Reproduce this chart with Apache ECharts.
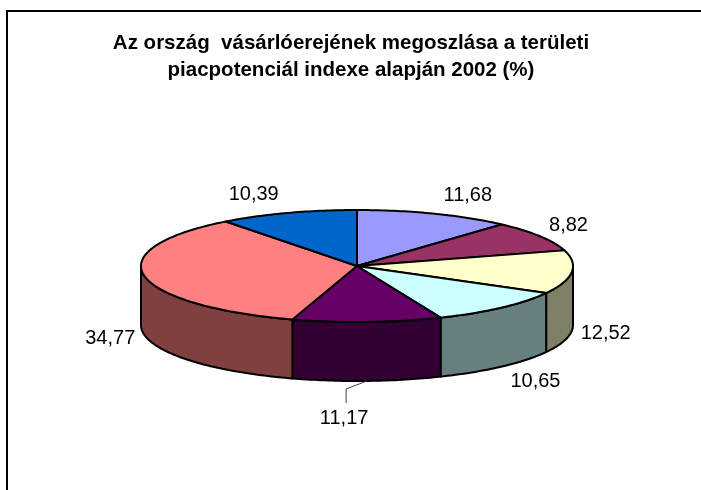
<!DOCTYPE html>
<html>
<head>
<meta charset="utf-8">
<script src="https://cdn.jsdelivr.net/npm/echarts@6/dist/echarts.min.js"></script>
<style>
  html, body { margin: 0; padding: 0; background: #fff; }
  #chart { width: 701px; height: 490px; }
</style>
</head>
<body>
<div id="chart"></div>
<script>
// Title text and slice values (percent), clockwise from 12 o'clock
const titleLines = ['Az ország  vásárlóerejének megoszlása a területi', 'piacpotenciál indexe alapján 2002 (%)'];
const sliceValues = [11.68, 8.82, 12.52, 10.65, 11.17, 34.77, 10.39];

// Face colours and darker wall colours per slice
const topColors = ['#9999FF', '#993366', '#FFFFCC', '#CCFFFF', '#660066', '#FF8080', '#0066CC'];
const sideColors = ['#4D4D80', '#4D1A33', '#808066', '#668080', '#330033', '#804040', '#003366'];

// Tilted-disc geometry
const PIE = { cx: 357, cy: 266, rx: 216, ry: 56, depth: 59 };
const FONT_FAMILY = '"Liberation Sans", Arial, Helvetica, sans-serif';
const LABEL_SIZE = 20;

const total = sliceValues.reduce((a, b) => a + b, 0);
const starts = [];
{
  let acc = 0;
  sliceValues.forEach(v => { starts.push(acc); acc += v; });
}

const measureCtx = document.createElement('canvas').getContext('2d');
function textWidth(t, size) {
  measureCtx.font = size + 'px ' + FONT_FAMILY;
  return measureCtx.measureText(t).width;
}

// point on the rim; theta measured clockwise from the top
function rimPoint(theta, dy) {
  return [PIE.cx + PIE.rx * Math.sin(theta), PIE.cy - PIE.ry * Math.cos(theta) + (dy || 0)];
}
function rimArc(a0, a1, dy) {
  const n = Math.max(2, Math.ceil((a1 - a0) / (Math.PI / 180)));
  const pts = [];
  for (let k = 0; k <= n; k++) pts.push(rimPoint(a0 + (a1 - a0) * k / n, dy));
  return pts;
}

function renderItem(params, api) {
  const i = params.dataIndex;
  const v = api.value(0);
  const a0 = starts[i] / total * 2 * Math.PI;
  const a1 = a0 + v / total * 2 * Math.PI;
  const outline = { stroke: '#000', lineWidth: 2, lineJoin: 'round' };
  const children = [];

  // upper face of the slice
  children.push({
    type: 'polygon', z2: 10,
    shape: { points: [[PIE.cx, PIE.cy]].concat(rimArc(a0, a1, 0)) },
    style: Object.assign({ fill: topColors[i] }, outline)
  });

  // outer wall, only where it faces the viewer (90°..270°)
  const s0 = Math.max(a0, Math.PI / 2);
  const s1 = Math.min(a1, 1.5 * Math.PI);
  if (s1 > s0) {
    const upper = rimArc(s0, s1, 0);
    const lower = rimArc(s0, s1, PIE.depth).reverse();
    children.push({
      type: 'polygon', z2: 0,
      shape: { points: upper.concat(lower) },
      style: Object.assign({ fill: sideColors[i] }, outline)
    });
  }

  // value label
  const mid = (a0 + a1) / 2;
  const sn = Math.sin(mid), cs = Math.cos(mid);
  const text = v.toFixed(2).replace('.', ',');
  const front = cs < 0;
  const anchor = rimPoint(mid, front ? PIE.depth : 0);
  let lx, ly;
  if (front && Math.abs(sn) < 0.15) {
    // bottom-centre label hangs on a short leader line
    const elbow = [anchor[0] - 21, anchor[1] + 8];
    const end = [anchor[0] - 21, anchor[1] + 22];
    children.push({
      type: 'polyline', z2: 15,
      shape: { points: [anchor, elbow, end] },
      style: { stroke: '#444', lineWidth: 1, fill: null }
    });
    lx = end[0] - 2;
    ly = end[1] + 16;
  } else {
    const w = textWidth(text, LABEL_SIZE);
    lx = anchor[0] + Math.sign(sn) * (w / 2 + 9);
    ly = anchor[1] - cs * 20;
  }
  children.push({
    type: 'text', z2: 20,
    style: {
      text: text, x: lx, y: ly,
      align: 'center', verticalAlign: 'middle',
      fontSize: LABEL_SIZE, fontFamily: FONT_FAMILY, fill: '#000'
    }
  });

  return { type: 'group', children: children };
}

const chart = echarts.init(document.getElementById('chart'), null, { renderer: 'canvas' });
chart.setOption({
  animation: false,
  backgroundColor: '#fff',
  title: {
    text: titleLines.join('\n'),
    left: 346,
    textAlign: 'center',
    top: 25,
    textStyle: {
      fontSize: 20.5, fontWeight: 'bold', fontFamily: FONT_FAMILY,
      color: '#000', lineHeight: 27
    }
  },
  graphic: [{
    type: 'rect',
    shape: { x: 7, y: 11, width: 760, height: 560 },
    style: { fill: null, stroke: '#000', lineWidth: 2 },
    silent: true
  }],
  series: [{
    type: 'custom',
    coordinateSystem: 'none',
    renderItem: renderItem,
    data: sliceValues.map(v => [v])
  }]
});
</script>
</body>
</html>
